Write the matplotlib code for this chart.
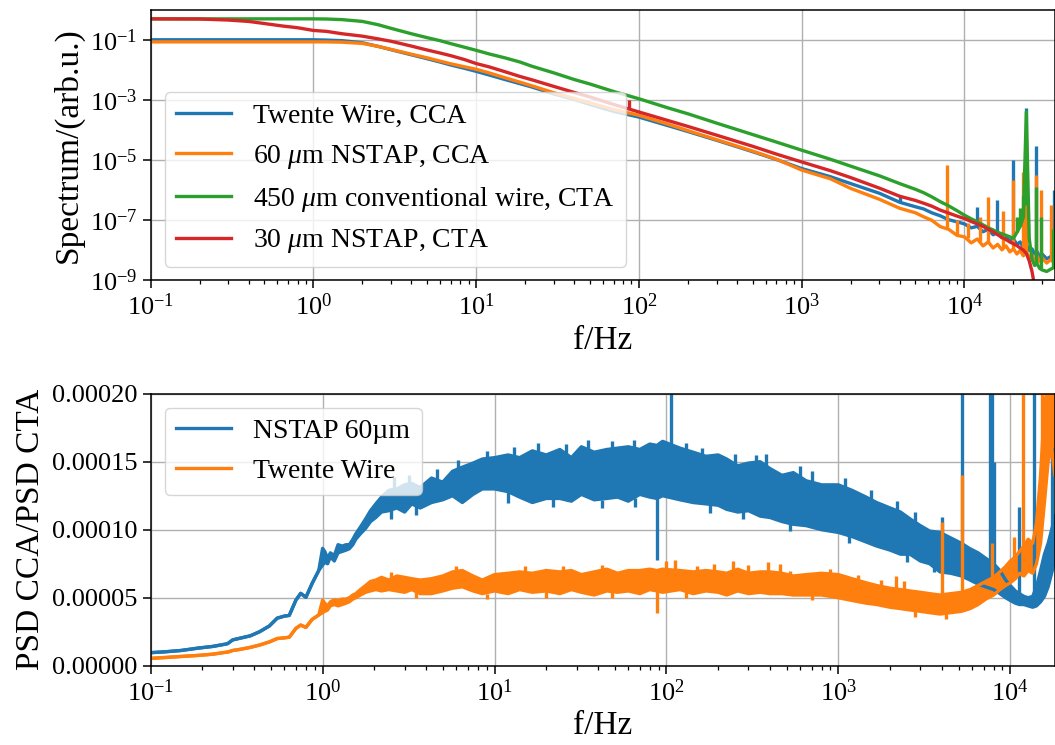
import numpy as np
import matplotlib.pyplot as plt
from matplotlib.ticker import FormatStrFormatter, NullLocator

plt.rcParams['font.family'] = ['Liberation Serif', 'DejaVu Serif']
plt.rcParams['mathtext.fontset'] = 'custom'
plt.rcParams['mathtext.rm'] = 'Liberation Serif'
plt.rcParams['mathtext.it'] = 'Liberation Serif:italic'
plt.rcParams['mathtext.bf'] = 'Liberation Serif:bold'

# ---- spectra (log10 of the spectrum), top panel ----
f_top = [0.1, 0.2, 0.3, 0.4, 0.5, 0.64, 0.8, 1.0, 1.2, 1.5,
         2.0, 2.5, 3.0, 4.0, 5.0, 6.0, 7.0, 8.5, 10, 12,
         15, 18.6, 22, 30, 40, 50, 70, 100, 150, 200,
         300, 500, 700, 1000, 1500, 2000, 3000, 4000, 5000, 5600,
         6300, 7100, 8000, 9000, 1.0e4, 1.1e4, 1.2e4, 1.3e4, 1.4e4, 1.5e4,
         1.6e4, 1.7e4, 1.8e4, 1.9e4, 2.0e4, 2.1e4, 2.2e4, 2.3e4, 2.4e4, 2.5e4,
         2.6e4, 2.7e4, 2.8e4, 2.9e4, 3.0e4, 3.2e4, 3.4e4, 3.6e4]

twente_cca = [-1.00, -1.00, -1.00, -1.00, -1.00, -1.00, -1.00, -1.00, -1.01, -1.03,
              -1.10, -1.22, -1.33, -1.50, -1.63, -1.74, -1.84, -1.95, -2.05, -2.17,
              -2.32, -2.46, -2.57, -2.80, -2.98, -3.15, -3.38, -3.57, -3.85, -4.05,
              -4.34, -4.72, -4.98, -5.28, -5.55, -5.78, -6.10, -6.40, -6.55, -6.62,
              -6.75, -6.85, -6.98, -7.05, -7.12, -7.25, -7.20, -7.38, -7.30, -7.48,
              -7.40, -7.58, -7.52, -7.70, -7.62, -7.80, -7.72, -7.90, -7.82, -8.00,
              -7.95, -8.12, -8.05, -8.20, -8.12, -8.28, -8.20, -8.35]

nstap60_cca = [-1.07, -1.07, -1.07, -1.07, -1.07, -1.07, -1.07, -1.07, -1.07, -1.08,
               -1.12, -1.22, -1.32, -1.48, -1.60, -1.71, -1.80, -1.90, -1.98, -2.10,
               -2.26, -2.41, -2.53, -2.76, -2.95, -3.10, -3.32, -3.51, -3.80, -4.02,
               -4.32, -4.70, -4.97, -5.33, -5.62, -5.94, -6.30, -6.60, -6.75, -6.88,
               -7.00, -7.21, -7.30, -7.50, -7.55, -7.75, -7.62, -7.85, -7.72, -7.92,
               -7.80, -7.98, -7.85, -8.05, -7.95, -8.12, -8.00, -8.18, -8.05, -8.25,
               -8.15, -8.32, -8.20, -8.38, -8.25, -8.42, -8.30, -8.45]

wire450_cta = [-0.305, -0.305, -0.305, -0.305, -0.305, -0.305, -0.305, -0.305, -0.31, -0.33,
               -0.39, -0.50, -0.62, -0.80, -0.93, -1.03, -1.13, -1.25, -1.35, -1.47,
               -1.60, -1.74, -1.88, -2.10, -2.32, -2.47, -2.72, -2.96, -3.26, -3.46,
               -3.77, -4.15, -4.40, -4.67, -4.97, -5.20, -5.52, -5.78, -5.97, -6.08,
               -6.22, -6.38, -6.52, -6.68, -6.83, -6.95, -7.05, -7.15, -7.25, -7.32,
               -7.40, -7.45, -7.50, -7.55, -7.60, -7.40, -7.20, -6.90, -3.40, -7.60,
               -8.30, -8.50, -8.45, -8.60, -8.65, -8.70, -8.62, -8.55]

nstap30_cta = [-0.305, -0.31, -0.345, -0.39, -0.46, -0.54, -0.60, -0.69, -0.72, -0.80,
               -0.88, -0.97, -1.05, -1.21, -1.34, -1.44, -1.53, -1.66, -1.79, -1.90,
               -2.06, -2.22, -2.33, -2.55, -2.75, -2.90, -3.15, -3.40, -3.68, -3.88,
               -4.17, -4.54, -4.80, -5.06, -5.35, -5.58, -5.93, -6.20, -6.34, -6.43,
               -6.53, -6.66, -6.76, -6.86, -6.94, -7.04, -7.12, -7.20, -7.30, -7.38,
               -7.48, -7.57, -7.64, -7.72, -7.78, -7.84, -7.92, -7.99, -8.10, -8.35,
               -8.70, -9.20, -9.80, -10.5, -11.0, -11.0, -11.0, -11.0]

# narrow peaks (frequency, log10 base, log10 tip)
twente_pk_f = [4000, 11900, 15800, 19900, 23900, 27600, 35300]
twente_pk_lo = [-6.40, -7.22, -7.42, -7.62, -7.85, -8.08, -8.22]
twente_pk_hi = [-6.20, -6.57, -6.31, -4.98, -3.27, -4.54, -6.00]

nstap60_pk_f = [7800, 9000, 10500, 12500, 13900, 17200, 19900, 22800, 23900, 27600, 29500, 34000]
nstap60_pk_lo = [-7.28, -7.50, -7.60, -7.70, -7.75, -7.90, -7.95, -8.10, -8.10, -8.28, -8.35, -8.30]
nstap60_pk_hi = [-5.17, -7.00, -7.10, -6.90, -6.24, -6.68, -5.67, -5.39, -4.30, -5.50, -6.00, -6.50]

wire450_pk_f = [21000, 22000, 23000, 23500, 27600, 29500, 35000]
wire450_pk_lo = [-7.40, -7.20, -6.90, -6.50, -8.45, -8.60, -8.60]
wire450_pk_hi = [-6.90, -6.60, -6.20, -5.60, -5.90, -6.90, -7.30]

nstap30_pk_f = [87]
nstap30_pk_lo = [-3.28]
nstap30_pk_hi = [-3.01]

# ---- PSD ratio CCA/CTA (units of 1e-5), bottom panel: lower/upper envelope ----
f_bot = [0.1, 0.12, 0.15, 0.19, 0.23, 0.27, 0.28, 0.3, 0.33, 0.38,
         0.43, 0.49, 0.545, 0.6, 0.64, 0.7, 0.746, 0.8, 0.87, 0.95,
         1.0, 1.03, 1.07, 1.11, 1.17, 1.23, 1.3, 1.37, 1.43, 1.5,
         1.56, 1.66, 1.78, 1.9, 2.04, 2.2, 2.43, 2.7, 3.0, 3.3,
         3.7, 4.3, 5.0, 5.7, 6.5, 7.5, 8.5, 10, 12, 14,
         16.6, 20, 24, 28, 32, 38, 45, 52, 60, 70,
         80, 88, 95, 120, 143, 170, 200, 224, 260, 300,
         351, 400, 470, 547, 650, 800, 1000, 1200, 1450, 1670,
         2000, 2300, 2610, 3000, 3400, 3900, 4500, 5200, 5840, 6500,
         7200, 8000, 8700, 9400, 1.0e4, 1.07e4, 1.13e4, 1.2e4, 1.27e4, 1.35e4,
         1.42e4, 1.5e4, 1.58e4, 1.66e4, 1.74e4, 1.82e4]

nstap_lo = [0.96, 1.02, 1.12, 1.30, 1.42, 1.58, 1.62, 1.90, 2.02, 2.20,
            2.50, 2.92, 3.50, 3.65, 3.70, 4.83, 5.32, 5.03, 6.06, 7.00,
            7.40, 7.60, 7.50, 8.00, 7.70, 8.30, 8.40, 8.50, 8.60, 8.90,
            9.30, 9.70, 10.1, 10.6, 10.9, 11.3, 11.4, 11.6, 11.3, 11.9,
            11.6, 12.0, 12.2, 12.5, 12.0, 12.6, 13.0, 13.0, 12.8, 12.4,
            12.0, 12.3, 12.3, 12.1, 12.6, 12.2, 12.3, 12.4, 12.1, 12.6,
            12.4, 12.3, 12.5, 12.2, 12.0, 11.9, 11.8, 11.5, 11.3, 11.4,
            11.0, 10.9, 10.6, 10.4, 10.3, 10.0, 9.8, 9.5, 9.1, 8.8,
            8.5, 8.2, 8.2, 7.7, 7.5, 6.9, 6.8, 6.6, 6.3, 6.0,
            5.8, 5.6, 5.3, 5.0, 4.8, 4.6, 4.5, 4.5, 4.4, 4.3,
            4.4, 4.7, 5.1, 5.8, 6.8, 7.8]
nstap_hi = [0.96, 1.02, 1.12, 1.30, 1.42, 1.58, 1.62, 1.90, 2.02, 2.20,
            2.50, 2.92, 3.50, 3.65, 3.70, 4.83, 5.32, 5.03, 6.06, 7.00,
            8.63, 8.40, 7.90, 8.30, 8.10, 8.90, 8.80, 8.90, 8.90, 9.30,
            9.70, 10.2, 10.8, 11.4, 11.9, 12.4, 12.9, 13.0, 13.3, 13.4,
            13.1, 13.8, 13.5, 14.3, 14.6, 14.9, 15.2, 15.3, 15.5, 15.3,
            15.8, 15.5, 15.9, 15.3, 16.1, 15.7, 15.9, 16.0, 16.1, 15.9,
            16.3, 16.2, 16.5, 16.0, 15.7, 15.4, 15.5, 15.2, 14.7, 14.9,
            15.0, 14.5, 14.0, 14.2, 13.6, 13.3, 13.3, 12.9, 12.4, 12.0,
            11.6, 11.3, 10.8, 10.3, 9.9, 9.8, 9.4, 9.0, 8.6, 8.3,
            7.9, 7.5, 7.0, 6.3, 5.9, 5.5, 5.3, 5.1, 5.0, 5.1,
            5.8, 7.0, 8.2, 9.0, 10.0, 11.0]

twente_lo = [0.54, 0.60, 0.68, 0.76, 0.85, 0.98, 1.00, 1.12, 1.20, 1.35,
             1.52, 1.75, 2.00, 2.05, 2.10, 2.75, 2.99, 2.82, 3.41, 3.73,
             3.90, 4.00, 4.10, 4.40, 4.50, 4.40, 4.50, 4.60, 4.70, 4.90,
             5.00, 5.20, 5.40, 5.50, 5.60, 5.50, 5.60, 5.50, 5.40, 5.60,
             5.30, 5.30, 5.50, 5.70, 5.80, 5.50, 5.30, 5.50, 5.30, 5.60,
             5.40, 5.50, 5.30, 5.60, 5.40, 5.20, 5.50, 5.40, 5.50, 5.30,
             5.60, 5.50, 5.40, 5.60, 5.30, 5.50, 5.40, 5.20, 5.50, 5.30,
             5.40, 5.30, 5.30, 5.20, 5.20, 5.20, 5.00, 4.80, 4.60, 4.50,
             4.30, 4.20, 4.10, 4.00, 3.90, 3.80, 3.90, 4.00, 4.20, 4.50,
             4.90, 5.20, 5.60, 5.90, 6.10, 6.40, 6.80, 6.60, 7.00, 6.80,
             7.50, 9.00, 12.0, 15.0, 16.0, 14.0]
twente_hi = [0.54, 0.60, 0.68, 0.76, 0.85, 0.98, 1.00, 1.12, 1.20, 1.35,
             1.52, 1.75, 2.00, 2.05, 2.10, 2.75, 2.99, 2.82, 3.41, 3.73,
             4.83, 4.60, 4.40, 4.70, 4.85, 4.80, 4.90, 4.90, 5.00, 5.20,
             5.30, 5.60, 5.90, 6.20, 6.30, 6.50, 6.30, 6.60, 6.50, 6.40,
             6.30, 6.40, 6.60, 6.90, 7.00, 6.60, 6.30, 6.70, 6.80, 6.90,
             6.80, 7.00, 6.90, 7.00, 6.70, 6.90, 7.10, 6.80, 7.00, 7.00,
             7.10, 7.00, 7.10, 7.00, 6.90, 7.00, 6.90, 6.80, 7.10, 6.80,
             6.90, 6.90, 6.80, 6.60, 6.70, 6.80, 6.70, 6.40, 6.10, 5.90,
             5.70, 5.60, 5.50, 5.40, 5.30, 5.20, 5.30, 5.40, 5.60, 5.90,
             6.20, 6.50, 6.90, 7.30, 7.70, 8.00, 8.40, 8.80, 9.30, 9.00,
             10.5, 14.0, 19.0, 21.0, 21.0, 21.0]

# peaks and dips in the ratio (frequency, base, tip), units of 1e-5
nstap_pk_f = [88, 106, 380, 4030, 5220, 7600, 7800, 8000, 11300, 13800, 17500,
              2.6, 3.2, 4.6, 6.1, 9.0, 13, 18, 26, 35, 48, 65, 130, 160, 250,
              330, 600, 700, 1100, 1550, 2200, 2800,
              2.5, 3.5, 12, 22, 42, 66, 180, 280, 520, 1150, 2500, 3600]
nstap_pk_lo = [12.4, 15.5, 14.5, 9.5, 8.8, 7.7, 7.5, 7.4, 5.3, 5.1, 10.0,
               12.9, 13.3, 13.6, 14.4, 15.2, 15.4, 15.6, 15.6, 15.9, 15.9, 16.0, 15.9, 15.5, 14.8,
               14.9, 13.9, 13.5, 13.1, 12.2, 11.4, 10.6,
               11.5, 11.8, 12.8, 12.3, 12.2, 12.3, 11.9, 11.4, 10.5, 9.6, 8.2, 7.6]
nstap_pk_hi = [7.77, 21.0, 15.6, 10.9, 21.0, 21.0, 21.0, 15.0, 11.7, 21.0, 16.0,
               13.9, 14.0, 14.5, 15.1, 15.8, 16.1, 16.4, 16.3, 16.6, 16.5, 16.6, 16.4, 16.0, 15.6,
               15.5, 14.7, 14.3, 13.8, 12.9, 12.1, 11.3,
               10.8, 11.1, 12.0, 11.7, 11.6, 11.7, 11.2, 10.8, 9.9, 9.0, 7.6, 6.9]

twente_pk_f2 = [88, 100, 112, 190, 245, 300, 390, 455, 1780, 2150, 2400,
                4030, 5220, 7800, 10500, 11900, 15200,
                2.5, 6.0, 15, 25, 42, 150, 520, 900, 1300,
                3.5, 9.0, 20, 48, 130, 700, 2800, 4200]
twente_pk_lo2 = [5.5, 7.0, 7.0, 7.0, 6.9, 6.8, 6.9, 6.8, 5.8, 5.6, 5.5,
                 5.2, 5.4, 6.5, 7.9, 8.7, 14.0,
                 6.4, 6.9, 6.9, 6.9, 7.0, 6.9, 6.6, 6.7, 6.3,
                 5.4, 5.3, 5.5, 5.4, 5.5, 5.2, 4.0, 3.8]
twente_pk_hi2 = [3.85, 7.7, 7.8, 7.5, 7.7, 7.4, 7.6, 7.5, 6.3, 6.6, 6.2,
                 10.6, 14.0, 9.0, 9.5, 21.0, 21.0,
                 6.9, 7.3, 7.3, 7.3, 7.4, 7.3, 7.0, 7.1, 6.7,
                 5.0, 4.9, 5.0, 5.0, 5.0, 4.8, 3.6, 3.4]

c_blue, c_orange, c_green, c_red = '#1f77b4', '#ff7f0e', '#2ca02c', '#d62728'
lw = 2.4

fig = plt.figure(figsize=(10.55, 7.45), dpi=100)
ax1 = fig.add_axes([0.1428, 0.6235, 0.8572, 0.3635])
ax2 = fig.add_axes([0.1428, 0.1064, 0.8572, 0.3651])

# top: spectra
series = [(twente_cca, twente_pk_f, twente_pk_lo, twente_pk_hi, c_blue, 'Twente Wire, CCA'),
          (nstap60_cca, nstap60_pk_f, nstap60_pk_lo, nstap60_pk_hi, c_orange, r'60 $\mu$m NSTAP, CCA'),
          (wire450_cta, wire450_pk_f, wire450_pk_lo, wire450_pk_hi, c_green, r'450 $\mu$m conventional wire, CTA'),
          (nstap30_cta, nstap30_pk_f, nstap30_pk_lo, nstap30_pk_hi, c_red, r'30 $\mu$m NSTAP, CTA')]
for vals, pf, plo, phi, col, lab in series:
    ax1.plot(f_top, 10 ** np.array(vals), color=col, lw=lw, label=lab)
    ax1.vlines(pf, 10 ** np.array(plo), 10 ** np.array(phi), color=col, lw=lw)

ax1.set_xscale('log')
ax1.set_yscale('log')
ax1.set_xlim(0.1, 3.6e4)
ax1.set_ylim(1e-9, 1)
ax1.set_yticks([1e-9, 1e-7, 1e-5, 1e-3, 1e-1])
ax1.yaxis.set_minor_locator(NullLocator())
ax1.set_xlabel('f/Hz', fontsize=24)
ax1.set_ylabel('Spectrum/(arb.u.)', fontsize=24)
ax1.legend(loc='lower left', fontsize=20)

# bottom: ratio of the PSDs
for lo, hi, pf, plo, phi, col, lab in [
        (nstap_lo, nstap_hi, nstap_pk_f, nstap_pk_lo, nstap_pk_hi, c_blue, 'NSTAP 60µm'),
        (twente_lo, twente_hi, twente_pk_f2, twente_pk_lo2, twente_pk_hi2, c_orange, 'Twente Wire')]:
    lo = np.array(lo) * 1e-5
    hi = np.array(hi) * 1e-5
    ax2.fill_between(f_bot, lo, hi, color=col, lw=0)
    ax2.plot(f_bot, lo, color=col, lw=lw, label=lab)
    ax2.plot(f_bot, hi, color=col, lw=lw)
    ax2.vlines(pf, np.array(plo) * 1e-5, np.array(phi) * 1e-5, color=col, lw=lw)

ax2.set_xscale('log')
ax2.set_xlim(0.1, 1.82e4)
ax2.set_ylim(0, 2e-4)
ax2.set_yticks([0, 5e-5, 1e-4, 1.5e-4, 2e-4])
ax2.yaxis.set_major_formatter(FormatStrFormatter('%.5f'))
ax2.set_xlabel('f/Hz', fontsize=24)
ax2.set_ylabel('PSD CCA/PSD CTA', fontsize=24)
ax2.legend(loc='upper left', fontsize=20)

for ax in (ax1, ax2):
    ax.grid(True, which='major', color='#b0b0b0', lw=1.0)
    ax.set_axisbelow(True)
    ax.tick_params(which='major', labelsize=19, length=6, width=1.1)
    ax.tick_params(which='minor', length=3, width=0.9)
    for sp in ax.spines.values():
        sp.set_linewidth(1.1)

fig.savefig('out.png', dpi=100)
